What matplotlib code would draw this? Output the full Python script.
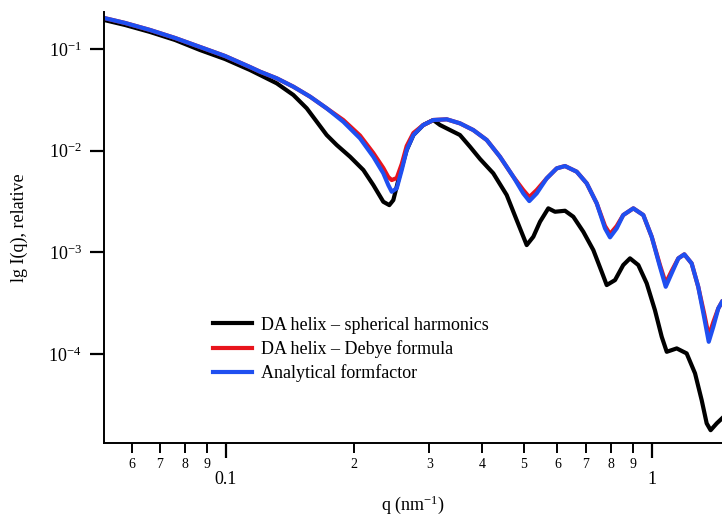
import matplotlib
matplotlib.use('Agg')
import matplotlib.pyplot as plt
from matplotlib.ticker import FixedLocator, NullLocator

plt.rcParams['font.family'] = ['Liberation Serif', 'DejaVu Serif']
plt.rcParams['mathtext.fontset'] = 'custom'
plt.rcParams['mathtext.rm'] = 'Liberation Serif'
plt.rcParams['mathtext.default'] = 'regular'

# analytical formfactor (blue) and Debye formula (red) share q points
q_model = [0.05170, 0.05793, 0.06632, 0.07593, 0.08690, 0.09946, 0.1138, 0.1202, 0.1315, 0.1439,
           0.1575, 0.1723, 0.1885, 0.2063, 0.2217, 0.2340, 0.2404, 0.2449, 0.2516, 0.2585,
           0.2655, 0.2753, 0.2904, 0.3066, 0.3297, 0.3541, 0.3806, 0.4093, 0.4396, 0.4725,
           0.4986, 0.5152, 0.5362, 0.5660, 0.5975, 0.6249, 0.6657, 0.7027, 0.7417, 0.7757,
           0.7970, 0.8263, 0.8560, 0.9040, 0.9541, 0.9984, 1.044, 1.077, 1.112, 1.153,
           1.191, 1.239, 1.284, 1.325, 1.359, 1.393, 1.431, 1.460]
i_analytic = [0.2017, 0.1802, 0.1537, 0.1282, 0.1046, 0.0853, 0.0665, 0.0598, 0.0515, 0.0426,
              0.0340, 0.0261, 0.01928, 0.01324, 0.00873, 0.00600, 0.00460, 0.00395, 0.00427, 0.00646,
              0.01016, 0.01427, 0.01789, 0.02003, 0.02036, 0.01859, 0.01597, 0.01274, 0.00873, 0.00555,
              0.00381, 0.00320, 0.00381, 0.00535, 0.00671, 0.00707, 0.00622, 0.00478, 0.00304, 0.001726,
              0.001408, 0.001726, 0.002332, 0.002714, 0.002332, 0.001427, 0.000723, 0.000460, 0.000623, 0.000875,
              0.000958, 0.000781, 0.000460, 0.000233, 0.0001324, 0.0001860, 0.000282, 0.000327]
i_debye = [0.2017, 0.1802, 0.1537, 0.1282, 0.1046, 0.0853, 0.0665, 0.0598, 0.0515, 0.0426,
           0.0340, 0.0261, 0.02003, 0.01411, 0.00949, 0.00676, 0.00551, 0.00515, 0.00539, 0.00740,
           0.01112, 0.01493, 0.01789, 0.02003, 0.02036, 0.01859, 0.01597, 0.01274, 0.00873, 0.00555,
           0.00411, 0.00350, 0.00411, 0.00535, 0.00671, 0.00707, 0.00622, 0.00478, 0.00304, 0.001818,
           0.001517, 0.001818, 0.002332, 0.002714, 0.002332, 0.001427, 0.000752, 0.000500, 0.000657, 0.000875,
           0.000958, 0.000781, 0.000460, 0.000254, 0.0001507, 0.0002068, 0.000282, 0.000327]

# DA helix, spherical harmonics (black)
q_sh = [0.05170, 0.05793, 0.06632, 0.07593, 0.08690, 0.09946, 0.1138, 0.1202, 0.1315, 0.1439,
        0.1547, 0.1633, 0.1723, 0.1819, 0.1955, 0.2101, 0.2217, 0.2340, 0.2417, 0.2470,
        0.2562, 0.2655, 0.2753, 0.2904, 0.3066, 0.3180, 0.3356, 0.3541, 0.3739, 0.3948,
        0.4240, 0.4559, 0.4812, 0.5080, 0.5265, 0.5459, 0.5709, 0.5920, 0.6249, 0.6536,
        0.6899, 0.7282, 0.7619, 0.7829, 0.8188, 0.8560, 0.8879, 0.9287, 0.9718, 1.016,
        1.054, 1.083, 1.143, 1.206, 1.262, 1.308, 1.344, 1.373, 1.419, 1.460]
i_sh = [0.1929, 0.1722, 0.1470, 0.1226, 0.0977, 0.0797, 0.0622, 0.0555, 0.0460, 0.0353,
        0.0261, 0.01928, 0.01427, 0.01138, 0.00873, 0.00646, 0.00460, 0.00315, 0.00292, 0.00327,
        0.00600, 0.01016, 0.01427, 0.01789, 0.02003, 0.01789, 0.01597, 0.01427, 0.01095, 0.00829,
        0.00600, 0.00367, 0.00208, 0.001182, 0.001427, 0.002003, 0.002714, 0.002513, 0.002570, 0.002244,
        0.001597, 0.001056, 0.000646, 0.000478, 0.000535, 0.000752, 0.000875, 0.000752, 0.000497, 0.000271,
        0.0001483, 0.0001056, 0.0001140, 0.0001018, 6.48e-5, 3.54e-5, 2.09e-5, 1.79e-5, 2.09e-5, 2.34e-5]

labels = ['DA helix – spherical harmonics', 'DA helix – Debye formula', 'Analytical formfactor']

fig = plt.figure(figsize=(7.22, 5.15), dpi=100)
ax = fig.add_axes([104 / 722, 1 - 443 / 515, 618 / 722, 431 / 515])

ax.plot(q_sh, i_sh, color='black', lw=3, label=labels[0])
ax.plot(q_model, i_debye, color='#e8141c', lw=3, label=labels[1])
ax.plot(q_model, i_analytic, color='#1f4ff0', lw=3, label=labels[2])

ax.set_xscale('log')
ax.set_yscale('log')
ax.set_xlim(0.0517, 1.46)
ax.set_ylim(1.34e-5, 0.231)

for side in ['top', 'right']:
    ax.spines[side].set_visible(False)
for side in ['left', 'bottom']:
    ax.spines[side].set_linewidth(1.4)

# y axis: decades only
ax.yaxis.set_major_locator(FixedLocator([1e-4, 1e-3, 1e-2, 1e-1]))
ax.yaxis.set_minor_locator(NullLocator())
ax.set_yticklabels(['10$^{-4}$', '10$^{-3}$', '10$^{-2}$', '10$^{-1}$'])
ax.tick_params(axis='y', which='major', direction='out', length=10, width=1.6,
               labelsize=13, pad=6)

# x axis: major 0.1 and 1, labelled minors
minor_x = [0.06, 0.07, 0.08, 0.09, 0.2, 0.3, 0.4, 0.5, 0.6, 0.7, 0.8, 0.9]
minor_lab = ['6', '7', '8', '9', '2', '3', '4', '5', '6', '7', '8', '9']
ax.xaxis.set_major_locator(FixedLocator([0.1, 1.0]))
ax.set_xticklabels(['0.1', '1'])
ax.xaxis.set_minor_locator(FixedLocator(minor_x))
ax.set_xticklabels(minor_lab, minor=True)
ax.tick_params(axis='x', which='major', direction='out', length=11, width=1.6,
               labelsize=13, pad=9)
ax.tick_params(axis='x', which='minor', direction='out', length=7, width=1.4,
               labelsize=10, pad=4)

ax.set_xlabel('q (nm$^{-1}$)', fontsize=13, labelpad=4)
ax.set_ylabel('lg I(q), relative', fontsize=13)
ax.yaxis.set_label_coords(-0.123, 0.5)

ax.legend(loc='upper left', bbox_to_anchor=(0.176, 0.293), frameon=False,
          fontsize=13, handlelength=2.2, handletextpad=0.45, labelspacing=0.36,
          borderpad=0, borderaxespad=0)

fig.savefig('out.png', dpi=100)
